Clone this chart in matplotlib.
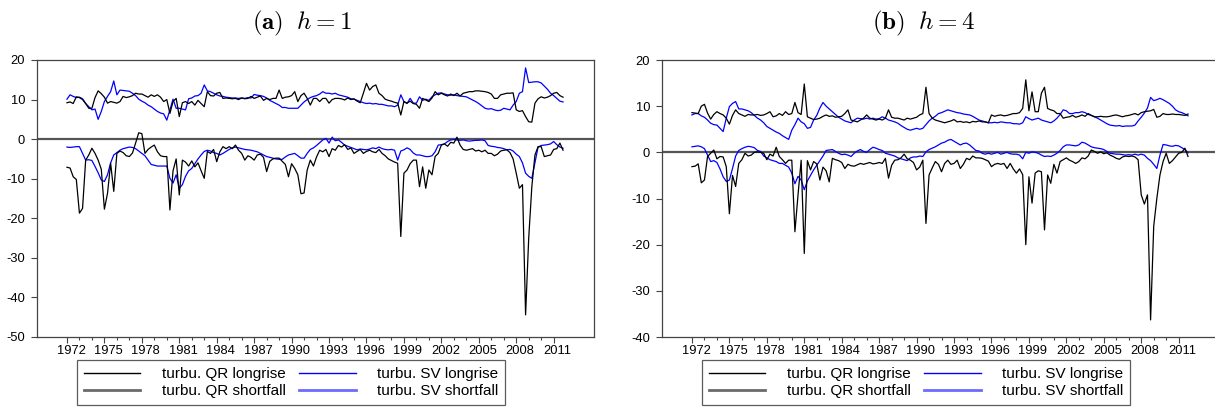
import numpy as np
import matplotlib
matplotlib.use("Agg")
import matplotlib.pyplot as plt
import matplotlib.transforms as mtransforms
from matplotlib.lines import Line2D
from matplotlib.ticker import FixedLocator

plt.rcParams['font.family'] = ['Liberation Sans', 'DejaVu Sans']
plt.rcParams['mathtext.fontset'] = 'cm'
plt.rcParams['axes.unicode_minus'] = False

# kwartalen 1972Q1 .. 2011Q4
quarters = 1972 + np.arange(160) / 4.0
year_labels = list(range(1972, 2012, 3))
year_minor = list(range(1972, 2012))

# ---- paneel (a) h = 1 ----
qr_long_h1 = [
    9.2, 9.4, 9.0, 10.7,   10.5, 10.0, 9.0, 7.8,   7.8, 10.5, 12.2, 11.5,   10.6, 9.1, 9.5, 9.3,
    9.1, 9.5, 10.8, 10.5,  10.7, 11.0, 11.6, 11.4, 11.4, 11.0, 10.6, 11.2,  10.8, 11.2, 10.6, 9.5,
    10.0, 6.5, 9.5, 10.3,  5.7, 9.2, 9.5, 9.0,     9.5, 8.6, 9.8, 9.0,      8.2, 12.0, 11.0, 10.9,
    11.6, 11.8, 10.3, 10.4, 10.3, 10.2, 10.3, 10.0, 10.4, 10.2, 10.3, 10.8, 10.3, 10.6, 10.9, 9.8,
    10.3, 10.0, 10.3, 10.3, 12.4, 10.3, 10.6, 10.7, 11.0, 12.0, 9.5, 11.0,  11.6, 10.3, 8.6, 10.3,
    10.3, 9.5, 10.3, 10.3, 9.1, 10.0, 10.3, 10.3,  10.2, 9.9, 10.4, 10.0,   10.2, 9.6, 9.2, 11.6,
    14.1, 12.4, 13.3, 13.7, 11.6, 11.0, 10.1, 9.8, 9.6, 9.3, 9.1, 6.1,      9.5, 9.1, 9.6, 9.0,
    8.8, 7.8, 10.3, 9.9,   9.5, 10.4, 12.0, 11.2,  11.6, 11.2, 10.9, 11.4,  11.0, 11.6, 10.9, 11.6,
    11.8, 12.0, 12.0, 12.2, 12.2, 12.1, 12.0, 11.8, 11.4, 10.3, 10.3, 11.2, 11.4, 11.6, 11.6, 11.7,
    7.4, 7.0, 7.2, 5.7,    4.4, 4.3, 9.1, 10.2,    10.7, 10.4, 10.6, 11.0,  11.6, 11.8, 11.0, 10.6,
]
qr_short_h1 = [
    -7.1, -7.3, -9.5, -10.2,  -18.7, -17.5, -5.3, -4.0,  -2.3, -3.6, -5.3, -7.6,   -17.7, -13.7, -6.1, -13.2,
    -3.6, -3.0, -3.4, -4.2,   -4.4, -3.5, -1.0, 1.6,     1.4, -3.6, -2.6, -2.0,    -1.5, -3.2, -4.2, -4.4,
    -4.4, -17.9, -8.0, -5.0,  -14.1, -5.3, -5.8, -6.8,   -5.5, -7.0, -6.0, -8.0,   -9.9, -3.1, -3.6, -2.6,
    -5.7, -3.2, -1.9, -2.4,   -1.9, -2.4, -1.5, -2.8,    -3.6, -5.3, -4.2, -4.6,   -5.3, -4.0, -3.8, -4.6,
    -8.2, -5.6, -5.0, -4.8,   -4.8, -5.6, -6.4, -9.5,    -6.2, -7.4, -9.0, -13.8,  -13.6, -7.8, -5.3, -6.8,
    -4.5, -2.8, -3.2, -2.6,   -4.4, -2.4, -2.8, -1.6,    -2.0, -1.4, -2.6, -2.2,   -3.6, -3.1, -2.6, -3.6,
    -3.1, -2.8, -3.2, -3.4,   -2.6, -3.6, -4.2, -5.0,    -5.4, -5.8, -6.1, -24.6,  -8.6, -7.8, -6.2, -5.3,
    -5.3, -12.0, -7.0, -12.4, -7.8, -9.0, -4.4, -3.6,    -1.5, -1.2, -1.8, -0.8,   -1.0, 0.5, -1.5, -2.6,
    -2.8, -2.6, -2.4, -3.0,   -2.8, -3.2, -2.8, -3.6,    -3.6, -4.2, -3.8, -3.0,   -2.8, -2.7, -3.4, -5.0,
    -8.6, -12.4, -11.5, -44.4, -25.0, -12.0, -4.0, -1.9, -1.9, -4.4, -4.2, -4.0,   -2.6, -2.4, -1.0, -2.8,
]
sv_long_h1 = [
    10.1, 11.2, 10.8, 10.5,  10.6, 10.2, 9.0, 8.2,    7.4, 7.6, 5.0, 7.0,      9.5, 10.8, 12.0, 14.7,
    11.2, 12.4, 12.3, 12.2,  12.1, 11.6, 11.0, 10.1,  9.6, 9.2, 8.6, 8.2,      7.6, 7.0, 6.6, 6.4,
    4.8, 7.4, 10.1, 7.8,     7.8, 7.6, 7.4, 10.2,     10.4, 10.9, 11.0, 11.6,  13.7, 12.2, 12.0, 11.6,
    11.2, 10.9, 10.8, 10.6,  10.5, 10.4, 10.4, 10.3,  10.4, 10.3, 10.5, 10.4,  11.3, 11.1, 11.0, 10.8,
    10.4, 9.8, 9.4, 9.0,     8.6, 8.0, 8.0, 7.8,      7.8, 7.8, 7.8, 8.6,      9.4, 10.0, 10.5, 10.8,
    11.0, 11.4, 12.0, 11.6,  11.6, 11.4, 11.6, 11.2,  11.0, 10.8, 10.6, 10.2,  10.1, 9.8, 9.5, 9.2,
    9.0, 9.1, 8.9, 9.0,      8.8, 8.8, 8.6, 8.4,      8.4, 8.2, 8.6, 11.2,     9.5, 9.0, 10.3, 9.1,
    9.1, 10.7, 9.8, 10.1,    9.8, 10.7, 11.2, 11.6,   11.7, 11.4, 11.2, 11.1,  11.2, 11.0, 10.9, 10.8,
    10.7, 10.3, 9.9, 9.5,    9.0, 8.4, 7.8, 7.6,      7.7, 7.4, 7.2, 7.3,      7.8, 7.6, 7.4, 8.6,
    9.5, 11.6, 12.0, 18.0,   14.3, 14.4, 14.5, 14.5,  14.2, 13.4, 12.6, 11.6,  11.0, 10.3, 9.6, 9.4,
]
sv_short_h1 = [
    -2.0, -2.1, -2.0, -1.9,   -1.9, -3.6, -5.3, -5.2,   -5.4, -6.9, -8.5, -10.3,  -10.7, -9.0, -6.0, -4.0,
    -3.4, -2.8, -2.4, -2.2,   -2.0, -2.1, -2.4, -3.0,   -3.6, -4.2, -5.3, -6.4,   -6.6, -6.8, -6.8, -6.8,
    -6.8, -9.9, -11.1, -9.0,  -12.4, -11.5, -9.4, -8.0, -7.4, -6.2, -5.0, -4.0,   -3.1, -2.8, -3.0, -3.4,
    -3.6, -4.0, -3.6, -3.1,   -2.6, -2.2, -2.0, -2.2,   -2.4, -2.6, -2.7, -2.8,   -3.0, -3.2, -3.6, -4.0,
    -4.4, -4.6, -4.8, -5.0,   -5.1, -5.1, -4.5, -4.0,   -3.8, -3.6, -4.2, -4.8,   -4.8, -3.6, -2.6, -2.2,
    -1.6, -0.9, -0.2, 0.2,    -1.0, 0.5, -0.4, -0.2,    -0.8, -1.5, -1.8, -2.1,   -2.4, -2.7, -2.5, -2.6,
    -2.7, -2.5, -2.2, -2.4,   -2.0, -2.4, -2.6, -2.7,   -2.6, -2.8, -5.3, -3.0,   -2.7, -2.2, -2.6, -3.5,
    -4.0, -4.0, -4.2, -4.4,   -4.4, -4.2, -3.2, -1.5,   -1.4, -1.2, -0.6, -0.2,   -0.1, -0.2, -0.3, -0.2,
    -0.4, -0.5, -0.4, -0.3,   -0.3, -0.2, -0.4, -1.6,   -1.8, -1.9, -2.1, -2.2,   -2.4, -2.7, -2.6, -3.0,
    -3.8, -4.4, -6.0, -8.6,   -9.4, -9.9, -6.0, -2.0,   -1.6, -1.5, -1.4, -1.2,   -0.6, -1.4, -2.0, -2.3,
]

# ---- paneel (b) h = 4 ----
qr_long_h4 = [
    8.6, 8.5, 8.4, 10.0,   10.4, 8.5, 7.2, 8.2,    8.8, 8.4, 8.1, 7.4,     6.1, 8.0, 9.2, 8.4,
    8.1, 7.8, 8.2, 8.1,    8.1, 8.2, 8.0, 8.1,     8.4, 8.8, 7.7, 7.9,     8.4, 8.0, 8.8, 8.2,
    8.4, 10.8, 8.6, 8.2,   14.8, 7.7, 7.4, 7.1,    7.2, 7.4, 7.8, 8.1,     7.8, 7.9, 7.6, 7.7,
    7.8, 8.4, 9.2, 7.0,    6.8, 6.6, 7.0, 7.4,     8.1, 7.4, 7.2, 7.0,     7.2, 7.0, 7.4, 9.2,
    7.6, 7.4, 7.4, 7.2,    7.0, 7.4, 7.2, 7.4,     7.6, 8.1, 8.4, 14.1,    8.4, 7.4, 7.0, 6.8,
    6.6, 6.4, 6.6, 6.8,    7.1, 6.6, 6.7, 6.5,     6.6, 6.4, 6.7, 6.6,     6.8, 6.6, 6.6, 6.4,
    8.1, 7.8, 8.0, 8.1,    7.9, 8.0, 8.2, 8.4,     8.4, 8.6, 9.5, 15.7,    9.0, 13.1, 8.8, 8.8,
    12.8, 14.1, 9.5, 9.2,  9.0, 8.4, 8.4, 7.4,     7.6, 7.7, 8.0, 7.6,     7.8, 8.1, 7.8, 8.4,
    8.0, 7.7, 7.7, 7.8,    7.7, 7.7, 7.8, 8.0,     8.1, 7.9, 7.7, 7.9,     8.0, 8.2, 8.4, 8.1,
    8.6, 8.8, 8.9, 9.0,    9.3, 7.6, 7.8, 8.4,     8.2, 8.2, 8.3, 8.2,     8.2, 8.1, 8.0, 8.3,
]
qr_short_h4 = [
    -3.1, -3.0, -2.5, -6.6,   -6.0, -0.9, -0.2, 0.5,    -1.4, -0.9, -1.0, -3.1,   -13.3, -5.0, -7.4, -2.4,
    -1.6, -0.2, -0.8, -0.6,   0.0, 0.1, 0.0, -0.2,      -1.6, -0.4, -0.8, 1.1,    -0.9, -1.6, -2.4, -1.7,
    -1.7, -17.2, -9.2, -1.7,  -21.9, -1.8, -3.8, -2.0,  -2.5, -6.0, -3.2, -4.0,   -6.4, -1.3, -1.6, -1.8,
    -2.2, -3.5, -2.6, -2.9,   -3.0, -2.7, -2.4, -2.6,   -2.4, -2.2, -2.5, -2.4,   -2.2, -2.4, -1.3, -5.6,
    -2.8, -1.7, -1.6, -1.2,   -0.4, -1.4, -1.7, -2.2,   -3.8, -3.2, -1.7, -15.4,  -4.9, -3.4, -2.0, -2.6,
    -4.2, -2.4, -1.7, -2.6,   -2.4, -1.7, -3.5, -2.6,   -1.3, -1.6, -0.8, -1.2,   -1.2, -1.3, -1.6, -1.9,
    -3.1, -2.6, -2.4, -2.6,   -2.4, -3.5, -2.4, -3.6,   -4.5, -3.6, -4.8, -20.0,  -5.3, -11.0, -4.5, -4.0,
    -4.2, -16.8, -4.9, -6.7,  -2.6, -4.5, -2.0, -1.6,   -1.2, -1.7, -2.0, -2.4,   -2.0, -1.2, -1.4, -0.8,
    0.5, 0.2, -0.2, 0.1,      -0.3, -0.1, -0.6, -0.9,   -1.3, -1.5, -1.0, -0.8,   -0.9, -0.8, -1.0, -1.6,
    -9.2, -11.2, -9.2, -36.3, -16.0, -10.0, -4.9, -2.0, -0.2, -2.4, -1.8, -1.0,   -0.2, 0.0, 0.9, -0.9,
]
sv_long_h4 = [
    8.1, 8.4, 8.4, 7.9,    7.6, 7.0, 6.3, 6.0,     5.9, 5.2, 4.5, 7.4,     9.9, 10.6, 11.0, 9.4,
    9.4, 9.2, 9.0, 8.6,    8.0, 7.4, 7.0, 6.4,     5.6, 5.2, 4.8, 4.4,     4.1, 3.6, 3.2, 2.8,
    4.8, 6.0, 7.4, 6.6,    6.2, 5.2, 5.4, 7.0,     8.0, 9.6, 10.8, 10.0,   9.4, 8.8, 8.2, 7.6,
    7.2, 6.8, 6.6, 6.4,    7.0, 7.4, 7.3, 7.2,     7.4, 7.2, 7.4, 7.2,     7.3, 7.7, 7.4, 7.0,
    6.8, 6.6, 6.3, 5.8,    5.4, 5.0, 4.8, 5.0,     5.2, 5.0, 5.2, 6.0,     6.8, 7.4, 7.8, 8.4,
    8.6, 8.9, 9.2, 9.0,    8.8, 8.6, 8.5, 8.3,     8.2, 8.1, 7.8, 7.4,     7.0, 6.8, 6.6, 6.4,
    6.4, 6.5, 6.4, 6.6,    6.5, 6.4, 6.4, 6.2,     6.2, 6.1, 6.4, 7.7,     7.3, 7.0, 7.2, 7.4,
    7.0, 6.8, 6.6, 6.4,    6.8, 7.4, 8.2, 9.2,     9.0, 8.4, 8.4, 8.6,     8.6, 8.8, 8.6, 8.2,
    8.0, 7.7, 7.4, 7.0,    6.6, 6.2, 5.9, 5.8,     5.7, 5.8, 5.6, 5.7,     5.7, 5.7, 5.9, 6.8,
    7.6, 8.5, 9.6, 11.9,   11.2, 11.4, 11.7, 11.4, 11.0, 10.6, 10.0, 9.2,  8.8, 8.6, 8.3, 7.9,
]
sv_short_h4 = [
    1.2, 1.3, 1.4, 1.2,     0.8, -0.6, -2.0, -1.8,   -2.2, -3.6, -5.3, -6.3,   -6.0, -3.5, -0.8, 0.4,
    0.8, 1.1, 1.3, 1.2,     1.0, 0.4, 0.2, -0.8,     -1.2, -1.6, -1.8, -2.0,   -2.4, -2.4, -2.8, -3.2,
    -4.5, -6.8, -5.2, -6.0, -8.1, -6.2, -5.0, -3.8,  -2.8, -1.8, -0.8, 0.4,    0.5, 0.6, 0.2, -0.2,
    -0.5, -0.4, -0.6, -0.9, -0.2, 0.3, 0.6, 0.2,     0.0, 0.6, 1.1, 0.9,       0.6, 0.4, -0.2, -0.4,
    -0.6, -0.8, -1.2, -1.4, -1.6, -1.8, -1.2, -1.0,  -1.0, -0.8, -0.9, 0.1,    0.6, 0.9, 1.2, 1.6,
    2.0, 2.2, 2.6, 2.8,     2.4, 2.0, 1.6, 1.9,      2.0, 1.6, 1.0, 0.4,       0.3, -0.2, -0.4, -0.2,
    -0.4, -0.2, 0.0, -0.4,  -0.2, 0.0, -0.3, -0.4,   -0.4, -0.6, -1.4, 0.0,    -0.2, 0.1, 0.0, -0.2,
    -0.6, -0.9, -0.8, -0.9, -0.6, -0.2, 0.4, 1.2,    1.6, 1.6, 1.5, 1.4,       1.6, 2.2, 2.0, 1.6,
    1.2, 1.0, 0.9, 0.8,     0.6, 0.2, -0.2, -0.3,    -0.4, -0.4, -0.5, -0.6,   -0.5, -0.6, -0.4, -0.6,
    -0.4, -0.6, -1.3, -1.8, -2.6, -3.5, -0.6, 1.7,   1.6, 1.4, 1.3, 1.5,       1.4, 1.0, 0.6, -0.1,
]

W, H = 1215, 409
fig = plt.figure(figsize=(W / 100, H / 100), dpi=100)


def teken_paneel(left_px, width_px, qr_long, qr_short, sv_long, sv_short, ymin, titel, titel_x):
    ax = fig.add_axes([left_px / W, (H - 337) / H, width_px / W, 277 / H])
    ax.axhline(0, color='#555555', lw=1.6, zorder=1)
    ax.plot(quarters, qr_long, color='black', lw=0.9, zorder=3)
    ax.plot(quarters, qr_short, color='black', lw=0.9, zorder=3)
    ax.plot(quarters, sv_long, color='#0000ff', lw=0.9, zorder=2)
    ax.plot(quarters, sv_short, color='#0000ff', lw=0.9, zorder=2)

    # zelfde schaal per jaar in beide panelen
    ax.set_xlim(1969.6, 1969.6 + width_px / 12.48)
    ax.set_ylim(ymin, 20)
    ax.set_yticks(np.arange(ymin, 21, 10))
    ax.xaxis.set_major_locator(FixedLocator(year_labels))
    ax.xaxis.set_minor_locator(FixedLocator(year_minor))
    ax.set_xticklabels([str(y) for y in year_labels])
    ax.tick_params(axis='x', which='major', length=4, width=0.8, color='#444444',
                   labelsize=9.3, pad=2)
    ax.tick_params(axis='x', which='minor', length=2.5, width=0.8, color='#444444')
    ax.tick_params(axis='y', length=4.5, width=0.8, color='#444444', labelsize=9.3, pad=4)
    # jaartallen staan iets rechts van hun streepje
    offset = mtransforms.ScaledTranslation(0.04, 0, fig.dpi_scale_trans)
    for lab in ax.get_xticklabels():
        lab.set_transform(lab.get_transform() + offset)
    for s in ax.spines.values():
        s.set_color('#444444')
        s.set_linewidth(0.9)

    handles = [
        Line2D([], [], color='black', lw=1.0),
        Line2D([], [], color='#6a6a6a', lw=2.0),
        Line2D([], [], color='#0000ff', lw=1.0),
        Line2D([], [], color='#6b6bff', lw=2.0),
    ]
    labels = ['turbu. QR longrise', 'turbu. QR shortfall',
              'turbu. SV longrise', 'turbu. SV shortfall']
    leg = fig.legend(handles, labels, ncol=2, loc='upper left',
                     bbox_to_anchor=((left_px + 40) / W, 1 - 360 / H),
                     bbox_transform=fig.transFigure, fontsize=11,
                     frameon=True, fancybox=False, edgecolor='#333333',
                     handlelength=3.7, handletextpad=1.4, columnspacing=0.9,
                     labelspacing=0.2, borderpad=0.45, borderaxespad=0)
    leg.get_frame().set_linewidth(0.9)

    fig.text(titel_x / W, 1 - 23 / H, titel, ha='center', va='center', fontsize=18)
    return ax


teken_paneel(37, 557, qr_long_h1, qr_short_h1, sv_long_h1, sv_short_h1, -50,
             r'$\mathbf{(a)}\;\ h = 1$', 302)
teken_paneel(662, 562, qr_long_h4, qr_short_h4, sv_long_h4, sv_short_h4, -40,
             r'$\mathbf{(b)}\;\ h = 4$', 924)

fig.savefig('out.png', dpi=100)
